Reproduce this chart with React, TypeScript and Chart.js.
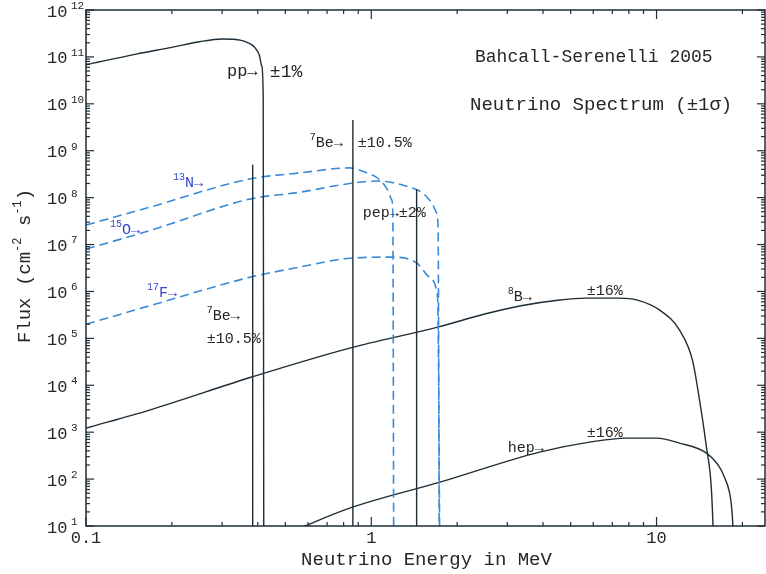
import React, { useEffect, useRef } from "react";
import { Chart, registerables } from "chart.js";

Chart.register(...registerables);

// Solar neutrino fluxes (cm^-2 s^-1, per MeV for continuum sources) vs energy (MeV)
const ppEnergy = [0.1, 0.15, 0.2, 0.25, 0.3, 0.35, 0.37, 0.39, 0.405, 0.413, 0.418, 0.42];
const ppFlux = [6.8e10, 1.15e11, 1.6e11, 2.1e11, 2.4e11, 2.25e11, 2.0e11, 1.6e11, 1.1e11, 6.5e10, 1.5e10, 1];

const n13Energy = [0.1, 0.168, 0.375, 0.56, 0.84, 0.949, 1.071, 1.142, 1.18, 1.19, 1.199];
const n13Flux = [2.6e7, 6.3e7, 2.5e8, 3.35e8, 4.3e8, 3.5e8, 2.4e8, 1.45e8, 8.9e7, 4.3e7, 1];

const o15Energy = [0.1, 0.168, 0.375, 0.56, 0.84, 1.045, 1.16, 1.36, 1.515, 1.629, 1.696, 1.715, 1.732];
const o15Flux = [8.0e6, 2.0e7, 9.3e7, 1.3e8, 2.0e8, 2.26e8, 2.15e8, 1.68e8, 1.25e8, 7.7e7, 4.7e7, 2.0e7, 1];

const f17Energy = [0.1, 0.168, 0.375, 0.56, 0.84, 1.165, 1.44, 1.6, 1.7, 1.715, 1.74];
const f17Flux = [2.0e5, 5.0e5, 2.0e6, 3.3e6, 5.1e6, 5.4e6, 4.1e6, 2.0e6, 9.3e5, 2.5e5, 1];

const b8Energy = [0.1, 0.168, 0.381, 0.84, 1.71, 2.5, 3.31, 4.5, 5.69, 7.42, 8.51, 10.25, 12.04, 13.37, 14.15, 14.96, 15.58, 16.0];
const b8Flux = [1.22e3, 3.0e3, 1.5e4, 6.2e4, 1.74e5, 3.3e5, 4.9e5, 6.5e5, 7.2e5, 7.2e5, 6.6e5, 4.0e5, 1.5e5, 3.4e4, 4.8e3, 4.8e2, 58, 1];

const hepEnergy = [0.54, 0.84, 1.74, 3.89, 5.82, 7.85, 10.0, 12.04, 14.96, 16.62, 17.3, 18.02, 18.3, 18.5, 18.77];
const hepFlux = [8.2, 24, 86, 377, 615, 748, 748, 586, 358, 180, 110, 52, 28, 11.5, 1];

// Line sources (cm^-2 s^-1)
const lineEnergy = [0.384, 0.862, 1.442];
const lineFlux = [5.0e8, 4.5e9, 1.5e8];

const xMin = 0.1;
const xMax = 24;
const yMin = 10;
const yMax = 1e12;
const xMajorTicks = [0.1, 1, 10];
const xTickLabels = ["0.1", "1", "10"];
const yExponents = [1, 2, 3, 4, 5, 6, 7, 8, 9, 10, 11, 12];

const titleLine1 = "Bahcall-Serenelli 2005";
const titleLine2 = "Neutrino Spectrum (\u00b11\u03c3)";
const xTitle = "Neutrino Energy in MeV";

type Part = { t: string; sup?: boolean };
type Note = { e: number; f: number; parts: Part[]; blue?: boolean; size?: number };

// Curve annotations, anchored at (energy, flux) of their left/middle point
const notes: Note[] = [
  { e: 0.312, f: 4.8e10, parts: [{ t: "pp\u2192" }], size: 17 },
  { e: 0.441, f: 4.8e10, parts: [{ t: "\u00b11%" }], size: 18 },
  { e: 0.609, f: 1.46e9, parts: [{ t: "7", sup: true }, { t: "Be\u2192" }] },
  { e: 0.897, f: 1.46e9, parts: [{ t: "\u00b110.5%" }] },
  { e: 0.934, f: 4.7e7, parts: [{ t: "pep\u2192\u00b12%" }] },
  { e: 0.265, f: 3.0e5, parts: [{ t: "7", sup: true }, { t: "Be\u2192" }] },
  { e: 0.265, f: 9.7e4, parts: [{ t: "\u00b110.5%" }] },
  { e: 0.2017, f: 2.05e8, parts: [{ t: "13", sup: true }, { t: "N\u2192" }], blue: true },
  { e: 0.1213, f: 2.04e7, parts: [{ t: "15", sup: true }, { t: "O\u2192" }], blue: true },
  { e: 0.1636, f: 9.2e5, parts: [{ t: "17", sup: true }, { t: "F\u2192" }], blue: true },
  { e: 3.01, f: 7.6e5, parts: [{ t: "8", sup: true }, { t: "B\u2192" }] },
  { e: 5.69, f: 1.02e6, parts: [{ t: "\u00b116%" }] },
  { e: 3.01, f: 458, parts: [{ t: "hep\u2192" }] },
  { e: 5.69, f: 957, parts: [{ t: "\u00b116%" }] },
];

const W = 766;
const H = 574;
const FONT = '"Liberation Mono", "DejaVu Sans Mono", monospace';
const INK = "#1f2d36";
const TEXT = "#262626";
const BLUE_LINE = "#3a8ad8";
const BLUE_TEXT = "#3546cf";

const pts = (xs: number[], ys: number[]) => xs.map((x, i) => ({ x, y: ys[i] }));

function drawRich(
  ctx: CanvasRenderingContext2D,
  x: number,
  y: number,
  parts: Part[],
  size: number,
  color: string,
  align: "left" | "center" = "left"
) {
  const supSize = Math.round(size * 0.64);
  let total = 0;
  for (const p of parts) {
    ctx.font = `${p.sup ? supSize : size}px ${FONT}`;
    total += ctx.measureText(p.t).width;
  }
  let cx = align === "center" ? x - total / 2 : x;
  ctx.fillStyle = color;
  ctx.textBaseline = "middle";
  ctx.textAlign = "left";
  for (const p of parts) {
    ctx.font = `${p.sup ? supSize : size}px ${FONT}`;
    ctx.fillText(p.t, cx, p.sup ? y - size * 0.36 : y);
    cx += ctx.measureText(p.t).width;
  }
}

const decorPlugin = {
  id: "decor",
  afterDatasetsDraw(chart: any) {
    const { ctx, chartArea: a, scales } = chart;
    const xs = scales.x;
    const ys = scales.y;
    ctx.save();

    // frame
    ctx.strokeStyle = INK;
    ctx.lineWidth = 1.5;
    ctx.strokeRect(a.left, a.top, a.right - a.left, a.bottom - a.top);

    const seg = (x1: number, y1: number, x2: number, y2: number) => {
      ctx.beginPath();
      ctx.moveTo(x1, y1);
      ctx.lineTo(x2, y2);
      ctx.stroke();
    };

    // x ticks (bottom and top, pointing inward)
    ctx.lineWidth = 1.2;
    for (let d = 0.1; d < xMax; d *= 10) {
      for (let k = 1; k <= 9; k++) {
        const v = d * k;
        if (v < xMin || v > xMax) continue;
        const p = xs.getPixelForValue(v);
        const len = k === 1 ? 9 : 4;
        seg(p, a.bottom, p, a.bottom - len);
        seg(p, a.top, p, a.top + len);
      }
    }
    // y ticks (left and right, pointing inward)
    for (const e of yExponents) {
      for (let k = 1; k <= 9; k++) {
        const v = k * Math.pow(10, e);
        if (v < yMin || v > yMax) continue;
        const p = ys.getPixelForValue(v);
        const len = k === 1 ? 8 : 4;
        seg(a.left, p, a.left + len, p);
        seg(a.right, p, a.right - len, p);
      }
    }

    // y tick labels: 10 with superscript exponent
    for (const e of yExponents) {
      const p = ys.getPixelForValue(Math.pow(10, e));
      ctx.font = `17px ${FONT}`;
      ctx.fillStyle = TEXT;
      ctx.textBaseline = "middle";
      ctx.textAlign = "left";
      ctx.fillText("10", 47, p + 2);
      ctx.font = `11px ${FONT}`;
      ctx.fillText(String(e), 71, p - 4);
    }

    // x tick labels
    xMajorTicks.forEach((v, i) => {
      const p = xs.getPixelForValue(v);
      ctx.font = `17px ${FONT}`;
      ctx.fillStyle = TEXT;
      ctx.textAlign = "center";
      ctx.textBaseline = "middle";
      ctx.fillText(xTickLabels[i], p, a.bottom + 12);
    });

    // axis titles
    ctx.font = `19px ${FONT}`;
    ctx.textAlign = "center";
    ctx.textBaseline = "middle";
    ctx.fillStyle = TEXT;
    ctx.fillText(xTitle, (a.left + a.right) / 2 + 1, a.bottom + 34);

    ctx.save();
    ctx.translate(25, 266);
    ctx.rotate(-Math.PI / 2);
    drawRich(
      ctx,
      0,
      0,
      [{ t: "Flux (cm" }, { t: "-2", sup: true }, { t: " s" }, { t: "-1", sup: true }, { t: ")" }],
      19,
      TEXT,
      "center"
    );
    ctx.restore();

    // chart titles
    drawRich(ctx, 475, 57, [{ t: titleLine1 }], 18, TEXT);
    drawRich(ctx, 470, 105, [{ t: titleLine2 }], 19, TEXT);

    // curve annotations
    for (const n of notes) {
      const x = xs.getPixelForValue(n.e);
      const y = ys.getPixelForValue(n.f);
      drawRich(ctx, x, y, n.parts, n.size ?? 15, n.blue ? BLUE_TEXT : TEXT);
    }

    ctx.restore();
  },
};

export default function App() {
  const ref = useRef<HTMLCanvasElement | null>(null);

  useEffect(() => {
    if (!ref.current) return;
    const solid = (data: { x: number; y: number }[]) => ({
      data,
      borderColor: INK,
      borderWidth: 1.4,
      pointRadius: 0,
      cubicInterpolationMode: "monotone" as const,
      fill: false,
    });
    const dashed = (data: { x: number; y: number }[]) => ({
      data,
      borderColor: BLUE_LINE,
      borderWidth: 1.6,
      borderDash: [9, 5],
      pointRadius: 0,
      cubicInterpolationMode: "monotone" as const,
      fill: false,
    });
    const vertical = (e: number, f: number) => ({
      data: [
        { x: e, y: yMin },
        { x: e, y: f },
      ],
      borderColor: INK,
      borderWidth: 1.4,
      pointRadius: 0,
      tension: 0,
      fill: false,
    });

    const chart = new Chart(ref.current, {
      type: "line",
      data: {
        datasets: [
          { label: "pp", ...solid(pts(ppEnergy, ppFlux)) },
          ...lineEnergy.map((e, i) => ({ label: "line" + i, ...vertical(e, lineFlux[i]) })),
          { label: "13N", ...dashed(pts(n13Energy, n13Flux)) },
          { label: "15O", ...dashed(pts(o15Energy, o15Flux)) },
          { label: "17F", ...dashed(pts(f17Energy, f17Flux)) },
          { label: "8B", ...solid(pts(b8Energy, b8Flux)) },
          { label: "hep", ...solid(pts(hepEnergy, hepFlux)) },
        ] as any,
      },
      options: {
        animation: false,
        responsive: false,
        maintainAspectRatio: false,
        devicePixelRatio: 1,
        layout: { padding: { left: 86, top: 10, right: 1, bottom: 48 } },
        plugins: { legend: { display: false }, tooltip: { enabled: false } },
        scales: {
          x: { type: "logarithmic", min: xMin, max: xMax, display: false },
          y: { type: "logarithmic", min: yMin, max: yMax, display: false },
        },
      },
      plugins: [decorPlugin],
    });
    return () => chart.destroy();
  }, []);

  return (
    <div style={{ position: "absolute", left: 0, top: 0, width: W, height: H, background: "#fff" }}>
      <canvas ref={ref} width={W} height={H} style={{ width: W, height: H, display: "block" }} />
    </div>
  );
}
